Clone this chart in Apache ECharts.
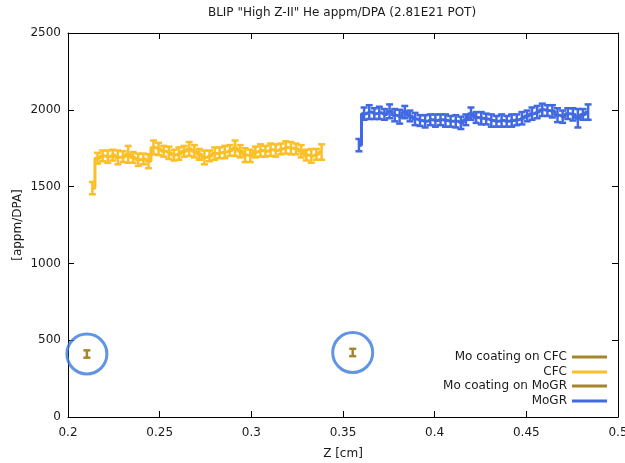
<!DOCTYPE html>
<html>
<head>
<meta charset="utf-8">
<script src="https://cdn.jsdelivr.net/npm/echarts@6/dist/echarts.min.js"></script>
<style>
  html, body { margin: 0; padding: 0; background: #fff; }
  #chart { width: 625px; height: 463px; }
</style>
</head>
<body>
<div id="chart"></div>
<script>
// Z positions [cm] and He appm/DPA values
const cfcZ = [0.2133, 0.2161, 0.2189, 0.2217, 0.2244, 0.2272, 0.2300, 0.2328, 0.2355, 0.2383,
  0.2411, 0.2439, 0.2466, 0.2494, 0.2522, 0.2550, 0.2578, 0.2605, 0.2633, 0.2661,
  0.2689, 0.2716, 0.2744, 0.2772, 0.2800, 0.2827, 0.2855, 0.2883, 0.2911, 0.2939,
  0.2966, 0.2994, 0.3022, 0.3050, 0.3077, 0.3105, 0.3133, 0.3161, 0.3188, 0.3216,
  0.3244, 0.3272, 0.3300, 0.3327, 0.3355, 0.3383];
const cfcVal = [1490, 1685, 1700, 1695, 1705, 1690, 1695, 1710, 1690, 1675,
  1680, 1665, 1755, 1745, 1730, 1720, 1705, 1715, 1730, 1745,
  1730, 1710, 1690, 1700, 1715, 1720, 1725, 1735, 1750, 1730,
  1705, 1700, 1725, 1735, 1730, 1740, 1735, 1745, 1755, 1750,
  1745, 1730, 1705, 1700, 1710, 1725];
const cfcErr = [40, 35, 35, 40, 35, 45, 35, 55, 35, 40,
  35, 45, 45, 40, 35, 40, 35, 40, 35, 45,
  40, 35, 45, 35, 40, 35, 40, 35, 50, 40,
  45, 40, 35, 40, 35, 40, 40, 35, 40, 40,
  35, 40, 35, 45, 35, 50];

const mogrZ = [0.3587, 0.3615, 0.3643, 0.3671, 0.3698, 0.3726, 0.3754, 0.3782, 0.3809, 0.3837,
  0.3865, 0.3893, 0.3920, 0.3948, 0.3976, 0.4004, 0.4032, 0.4059, 0.4087, 0.4115,
  0.4143, 0.4170, 0.4198, 0.4226, 0.4254, 0.4281, 0.4309, 0.4337, 0.4365, 0.4393,
  0.4420, 0.4448, 0.4476, 0.4504, 0.4531, 0.4559, 0.4587, 0.4615, 0.4642, 0.4670,
  0.4698, 0.4726, 0.4754, 0.4781, 0.4809, 0.4837];
const mogrVal = [1770, 1975, 1985, 1975, 1980, 1970, 1990, 1965, 1955, 1985,
  1960, 1940, 1930, 1925, 1935, 1930, 1935, 1930, 1925, 1925,
  1915, 1935, 1975, 1950, 1945, 1940, 1930, 1925, 1930, 1925,
  1930, 1935, 1945, 1960, 1975, 1985, 2000, 1995, 1990, 1965,
  1955, 1975, 1970, 1945, 1970, 1985];
const mogrErr = [40, 40, 45, 35, 40, 35, 45, 40, 45, 40,
  35, 40, 35, 40, 35, 40, 35, 40, 35, 40,
  40, 35, 40, 35, 40, 35, 40, 35, 40, 35,
  40, 35, 40, 35, 40, 40, 40, 35, 40, 45,
  40, 35, 40, 60, 35, 50];

const moCfcZ = [0.2103];
const moCfcVal = [410];
const moCfcErr = [24];
const moMogrZ = [0.3553];
const moMogrVal = [420];
const moMogrErr = [24];

const xTicks = { min: 0.2, max: 0.5, step: 0.05 };
const yTicks = { min: 0, max: 2500, step: 500 };

const FONT = 'DejaVu Sans';
const TXT = '#1a1a1a';
const CFC_COLOR = '#fbbf27';
const MOGR_COLOR = '#4169e1';
const MO_COLOR = '#a5862f';
const RING_COLOR = '#3a7bdd';

const toLine = (zs, vs) => zs.map((z, i) => [z, vs[i]]);
const toErr = (zs, vs, es) => zs.map((z, i) => [z, vs[i] - es[i], vs[i] + es[i]]);

function errorBarItem(params, api) {
  const x = api.value(0);
  const lo = api.coord([x, api.value(1)]);
  const hi = api.coord([x, api.value(2)]);
  const w = 3.5;
  const style = { stroke: api.visual('color'), lineWidth: 2.5, fill: null };
  return {
    type: 'group',
    children: [
      { type: 'line', shape: { x1: lo[0], y1: lo[1], x2: hi[0], y2: hi[1] }, style },
      { type: 'line', shape: { x1: lo[0] - w, y1: lo[1], x2: lo[0] + w, y2: lo[1] }, style },
      { type: 'line', shape: { x1: hi[0] - w, y1: hi[1], x2: hi[0] + w, y2: hi[1] }, style }
    ]
  };
}

const errSeries = (name, data, color) => ({
  name,
  type: 'custom',
  renderItem: errorBarItem,
  itemStyle: { color },
  encode: { x: 0, y: [1, 2] },
  data,
  z: 3
});

const legendItem = (name, top) => ({
  data: [{ name, icon: 'rect' }],
  orient: 'vertical',
  align: 'right',
  right: 18,
  top,
  itemWidth: 35,
  itemHeight: 3,
  itemGap: 0,
  padding: 0,
  selectedMode: false,
  textStyle: { fontFamily: FONT, fontSize: 12, color: TXT }
});

const axisCommon = {
  type: 'value',
  axisLine: { show: true, onZero: false, lineStyle: { color: '#000', width: 1 } },
  axisTick: { show: true, inside: true, length: 6, lineStyle: { color: '#000' } },
  splitLine: { show: false }
};

const chart = echarts.init(document.getElementById('chart'), null, { renderer: 'canvas' });

const option = {
  backgroundColor: '#fff',
  animation: false,
  title: {
    text: 'BLIP "High Z-II" He appm/DPA (2.81E21 POT)',
    left: 337,
    textAlign: 'center',
    top: 2,
    textStyle: { fontFamily: FONT, fontSize: 12, fontWeight: 'normal', color: TXT }
  },
  grid: { left: 68, right: 7, top: 33, bottom: 46, containLabel: false, outerBoundsMode: 'none' },
  legend: [
    legendItem('Mo coating on CFC', 351),
    legendItem('CFC', 366),
    legendItem('Mo coating on MoGR', 380),
    legendItem('MoGR', 395)
  ],
  xAxis: [
    {
      ...axisCommon,
      position: 'bottom',
      min: xTicks.min,
      max: xTicks.max,
      interval: xTicks.step,
      name: 'Z [cm]',
      nameLocation: 'middle',
      nameGap: 31,
      nameTextStyle: { fontFamily: FONT, fontSize: 12, color: TXT },
      axisLabel: { margin: 10, fontFamily: FONT, fontSize: 12, color: TXT }
    },
    {
      ...axisCommon,
      position: 'top',
      min: xTicks.min,
      max: xTicks.max,
      interval: xTicks.step,
      axisLabel: { show: false }
    }
  ],
  yAxis: [
    {
      ...axisCommon,
      position: 'left',
      min: yTicks.min,
      max: yTicks.max,
      interval: yTicks.step,
      name: '[appm/DPA]',
      nameLocation: 'middle',
      nameGap: 44,
      nameMoveOverlap: false,
      nameTextStyle: { fontFamily: FONT, fontSize: 12, color: TXT },
      axisLabel: { margin: 7, fontFamily: FONT, fontSize: 12, color: TXT, formatter: (v) => String(v) }
    },
    {
      ...axisCommon,
      position: 'right',
      min: yTicks.min,
      max: yTicks.max,
      interval: yTicks.step,
      axisLabel: { show: false }
    }
  ],
  series: [
    errSeries('Mo coating on CFC', toErr(moCfcZ, moCfcVal, moCfcErr), MO_COLOR),
    {
      name: 'CFC',
      type: 'line',
      step: 'middle',
      showSymbol: false,
      itemStyle: { color: CFC_COLOR },
      lineStyle: { color: CFC_COLOR, width: 3 },
      data: toLine(cfcZ, cfcVal),
      z: 2
    },
    errSeries('CFC err', toErr(cfcZ, cfcVal, cfcErr), CFC_COLOR),
    errSeries('Mo coating on MoGR', toErr(moMogrZ, moMogrVal, moMogrErr), MO_COLOR),
    {
      name: 'MoGR',
      type: 'line',
      step: 'middle',
      showSymbol: false,
      itemStyle: { color: MOGR_COLOR },
      lineStyle: { color: MOGR_COLOR, width: 3 },
      data: toLine(mogrZ, mogrVal),
      z: 2
    },
    errSeries('MoGR err', toErr(mogrZ, mogrVal, mogrErr), MOGR_COLOR),
    {
      // highlight rings round the Mo coating points
      name: 'rings',
      type: 'scatter',
      symbol: 'circle',
      symbolSize: 40,
      itemStyle: { color: 'rgba(0,0,0,0)', borderColor: RING_COLOR, borderWidth: 3 },
      data: [[moCfcZ[0], moCfcVal[0]], [moMogrZ[0], moMogrVal[0]]],
      z: 4
    }
  ]
};

chart.setOption(option);
</script>
</body>
</html>
